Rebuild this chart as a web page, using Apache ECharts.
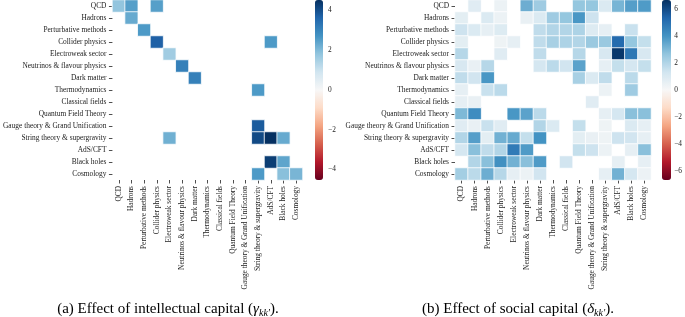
<!DOCTYPE html>
<html>
<head>
<meta charset="utf-8">
<script src="https://cdn.jsdelivr.net/npm/echarts@6/dist/echarts.min.js"></script>
<style>
  html, body { margin: 0; padding: 0; background: #fff; }
  #chart { width: 685px; height: 317px; }
</style>
</head>
<body>
<div id="chart"></div>
<script>
// field labels, same order on both axes
const fields = [
  'QCD', 'Hadrons', 'Perturbative methods', 'Collider physics', 'Electroweak sector',
  'Neutrinos & flavour physics', 'Dark matter', 'Thermodynamics', 'Classical fields',
  'Quantum Field Theory', 'Gauge theory & Grand Unification', 'String theory & supergravity',
  'AdS/CFT', 'Black holes', 'Cosmology'
]

// (a) intellectual capital, rows = k, cols = k'  (0 = not significant, left blank)
const intellectual = [
  [1.8, 2.5, 0, 2.5, 0, 0, 0, 0, 0, 0, 0, 0, 0, 0, 0],
  [0, 2.3, 0, 0, 0, 0, 0, 0, 0, 0, 0, 0, 0, 0, 0],
  [0, 0, 2.6, 0, 0, 0, 0, 0, 0, 0, 0, 0, 0, 0, 0],
  [0, 0, 0, 3.7, 0, 0, 0, 0, 0, 0, 0, 0, 2.6, 0, 0],
  [0, 0, 0, 0, 1.6, 0, 0, 0, 0, 0, 0, 0, 0, 0, 0],
  [0, 0, 0, 0, 0, 3.1, 0, 0, 0, 0, 0, 0, 0, 0, 0],
  [0, 0, 0, 0, 0, 0, 3.1, 0, 0, 0, 0, 0, 0, 0, 0],
  [0, 0, 0, 0, 0, 0, 0, 0, 0, 0, 0, 2.6, 0, 0, 0],
  [0, 0, 0, 0, 0, 0, 0, 0, 0, 0, 0, 0, 0, 0, 0],
  [0, 0, 0, 0, 0, 0, 0, 0, 0, 0, 0, 0, 0, 0, 0],
  [0, 0, 0, 0, 0, 0, 0, 0, 0, 0, 0, 3.8, 0, 0, 0],
  [0, 0, 0, 0, 2.2, 0, 0, 0, 0, 0, 0, 4.1, 4.6, 2.3, 0],
  [0, 0, 0, 0, 0, 0, 0, 0, 0, 0, 0, 0, 0, 0, 0],
  [0, 0, 0, 0, 0, 0, 0, 0, 0, 0, 0, 0, 4.3, 2.4, 0],
  [0, 0, 0, 0, 0, 0, 0, 0, 0, 0, 0, 2.6, 0, 1.9, 2.1]
]

// (b) social capital
const social = [
  [0, 0.8, 0, 0.4, 0, 3.3, 2.4, 0, 0, 2.6, 2.6, 1.0, 3.1, 3.7, 3.8],
  [0.7, 0, 1.0, 0.4, 0, 0.5, 1.0, 2.4, 2.6, 3.9, 1.4, 0, 0, 0, 0],
  [1.4, 1.0, 0.6, 0.9, 0, 0, 1.7, 2.0, 2.0, 2.1, 0.9, 0.6, 0, 1.5, 0],
  [0.7, 0, 0, 0.3, 0.6, 0, 1.7, 2.2, 2.1, 2.0, 2.5, 2.5, 5.2, 2.6, 1.6],
  [1.9, 0, 0, 0.8, 0, 0, 1.7, 0, 0, 1.9, 0, 1.1, 6.5, 4.8, 1.1],
  [1.1, 0.5, 1.9, 0, 0, 0, 1.2, 1.8, 1.3, 3.6, 0, 0.6, 1.6, 1.2, 1.6],
  [1.7, 1.3, 3.9, 0, 0, 0, 0, 0, 0, 2.2, 1.0, 1.7, 0, 1.8, 0],
  [0.6, 0, 1.5, 1.8, 0, 0, 0, 0, 0, 0, 0, 0.4, 0, 2.4, 0],
  [0.6, 0.5, 0, 0, 0, 0, 0, 0, 0, 0, 0.8, 0, 0, 0, 0],
  [3.0, 4.2, 0, 0, 3.9, 3.6, 1.8, 0, 0, 0, 0, 0.6, 1.2, 2.8, 2.8],
  [0.8, 0.5, 1.5, 0.8, 0, 0, 2.0, 1.0, 0, 1.6, 0, 0.3, 0, 1.0, 0.6],
  [2.0, 3.7, 0.7, 3.2, 3.4, 1.6, 4.0, 0, 0, 0.7, 0.5, 0.3, 1.4, 1.3, 0.6],
  [1.2, 2.8, 1.7, 2.0, 4.7, 3.8, 0, 0, 0, 1.6, 1.4, 0.4, 0, 0.6, 2.8],
  [0, 2.0, 2.8, 4.1, 3.2, 2.8, 3.8, 0, 1.3, 0, 0, 0, 0.6, 0, 0.6],
  [2.3, 1.8, 3.3, 1.9, 0.6, 0.4, 1.3, 0, 0, 0, 0, 0.6, 3.2, 1.2, 0.4]
]

// colorbar ranges and ticks
const rangeA = 4.53
const rangeB = 6.67
const ticksA = [-4, -2, 0, 2, 4]
const ticksB = [-6, -4, -2, 0, 2, 4, 6]

// matplotlib RdBu_r
const rdbu = ['#67001f', '#b2182b', '#d6604d', '#f4a582', '#fddbc7', '#f7f7f7',
  '#d1e5f0', '#92c5de', '#4393c3', '#2166ac', '#053061']

const font = 'Liberation Serif'
const txt = '#222'

function toCells(matrix) {
  const out = []
  matrix.forEach((row, i) => {
    row.forEach((v, j) => {
      if (v) out.push([j, i, v])
    })
  })
  return out
}

function minus(v) {
  return v < 0 ? '\u2212' + (-v) : String(v)
}

function catX(grid) {
  return {
    type: 'category', gridIndex: grid, data: fields,
    axisLine: { show: false },
    axisTick: { show: true, alignWithLabel: true, length: 3.5, lineStyle: { color: txt, width: 0.8 } },
    axisLabel: { rotate: 90, interval: 0, margin: 6, fontFamily: font, fontSize: 7.4, color: txt },
    splitLine: { show: false }
  }
}

function catY(grid) {
  return {
    type: 'category', gridIndex: grid, data: fields, inverse: true,
    axisLine: { show: false },
    axisTick: { show: true, alignWithLabel: true, length: 3.5, lineStyle: { color: txt, width: 0.8 } },
    axisLabel: { interval: 0, margin: 6, fontFamily: font, fontSize: 7.4, color: txt },
    splitLine: { show: false }
  }
}

function barAxis(grid, range, ticks) {
  return {
    type: 'value', gridIndex: grid, min: -range, max: range, position: 'right',
    axisLine: { show: false },
    splitLine: { show: false },
    axisTick: { show: true, length: 3, customValues: ticks, lineStyle: { color: txt, width: 0.8 } },
    axisLabel: { customValues: ticks, margin: 5, fontFamily: font, fontSize: 7.4, color: txt, formatter: minus }
  }
}

function caption(x, head, sym) {
  return {
    type: 'text', x: x, y: 300,
    style: {
      text: '{t|' + head + '}{g|' + sym + '}{s|kk\u2032}{t|).}',
      align: 'center',
      rich: {
        t: { fontFamily: font, fontSize: 15, fill: '#000', lineHeight: 18 },
        g: { fontFamily: font, fontSize: 15, fontStyle: 'italic', fill: '#000', lineHeight: 18 },
        s: { fontFamily: font, fontSize: 10, fontStyle: 'italic', fill: '#000', verticalAlign: 'bottom', lineHeight: 18 }
      }
    }
  }
}

const chart = echarts.init(document.getElementById('chart'))

chart.setOption({
  animation: false,
  backgroundColor: '#fff',
  grid: [
    { left: 108, top: 0, width: 194.5, height: 180 },
    { left: 455, top: 0, width: 196, height: 180 },
    { left: 315, top: 0, width: 8, height: 180 },
    { left: 662, top: 0, width: 9, height: 180 }
  ],
  xAxis: [
    catX(0), catX(1),
    { type: 'value', gridIndex: 2, show: false },
    { type: 'value', gridIndex: 3, show: false }
  ],
  yAxis: [
    catY(0), catY(1),
    barAxis(2, rangeA, ticksA),
    barAxis(3, rangeB, ticksB)
  ],
  visualMap: [
    {
      type: 'continuous', seriesIndex: 0, min: -rangeA, max: rangeA,
      left: 315, top: 0, itemWidth: 8, itemHeight: 180, padding: 0,
      calculable: false, text: null, showLabel: false, inRange: { color: rdbu }
    },
    {
      type: 'continuous', seriesIndex: 1, min: -rangeB, max: rangeB,
      left: 662, top: 0, itemWidth: 9, itemHeight: 180, padding: 0,
      calculable: false, text: null, showLabel: false, inRange: { color: rdbu }
    }
  ],
  series: [
    {
      type: 'heatmap', xAxisIndex: 0, yAxisIndex: 0, data: toCells(intellectual),
      itemStyle: { borderColor: '#fff', borderWidth: 0.8 }
    },
    {
      type: 'heatmap', xAxisIndex: 1, yAxisIndex: 1, data: toCells(social),
      itemStyle: { borderColor: '#fff', borderWidth: 0.8 }
    }
  ],
  graphic: [
    caption(168, '(a) Effect of intellectual capital (', '\u03b3'),
    caption(518, '(b) Effect of social capital (', '\u03b4')
  ]
})
</script>
</body>
</html>
